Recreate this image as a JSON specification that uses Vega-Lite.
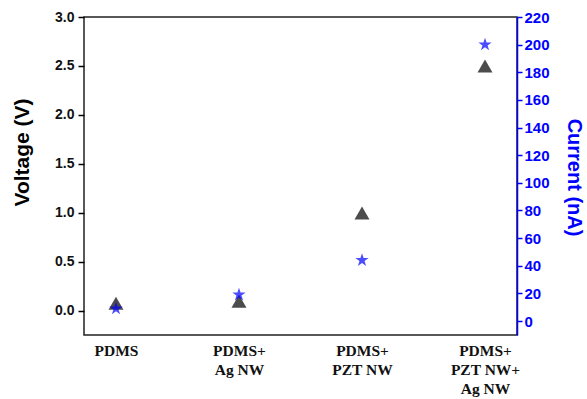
{
  "$schema": "https://vega.github.io/schema/vega-lite/v6.json",
  "width": 433,
  "height": 318,
  "autosize": "none",
  "padding": {"left": 84, "top": 17, "right": 70, "bottom": 64},
  "config": {"view": {"stroke": "#222", "strokeWidth": 1.5}},
  "data": {"values": [
    {"sample": "PDMS", "voltage": 0.08, "current": 9},
    {"sample": "PDMS+ Ag NW", "voltage": 0.1, "current": 19},
    {"sample": "PDMS+ PZT NW", "voltage": 1.0, "current": 44},
    {"sample": "PDMS+ PZT NW+ Ag NW", "voltage": 2.5, "current": 200}
  ]},
  "layer": [
    {
      "mark": {"type": "point", "shape": "triangle-up", "filled": true, "color": "black", "size": 225},
      "encoding": {
        "x": {"field": "sample", "type": "nominal", "scale": {"padding": 0.26},
          "axis": {"title": null, "labelAngle": 0, "ticks": false, "domain": false,
            "labelExpr": "split(replace(replace(datum.value, 'S+ ', 'S+|'), 'W+ ', 'W+|'), '|')",
            "labelFont": "Liberation Serif", "labelFontWeight": "bold", "labelFontSize": 15.5, "labelColor": "#111",
            "labelPadding": 8, "labelLineHeight": 19, "labelBaseline": "top", "labelOverlap": false}},
        "y": {"field": "voltage", "type": "quantitative", "scale": {"domain": [-0.245, 3.0]},
          "axis": {"values": [0, 0.5, 1, 1.5, 2, 2.5, 3], "format": ".1f", "title": "Voltage (V)", "grid": false,
            "tickSize": 6, "tickWidth": 1.5, "tickColor": "black", "domain": false,
            "labelFont": "Liberation Sans", "labelFontWeight": "bold", "labelFontSize": 14, "labelColor": "#111", "labelPadding": 4,
            "titleFont": "Liberation Sans", "titleFontWeight": "bold", "titleFontSize": 21, "titleColor": "black",
            "titleAngle": -90, "titleX": -62, "titleY": 135, "titleAlign": "center", "titleBaseline": "middle"}}
      }
    },
    {
      "mark": {"type": "point", "shape": "M0,-1L0.225,-0.309L0.951,-0.309L0.363,0.118L0.588,0.809L0,0.382L-0.588,0.809L-0.363,0.118L-0.951,-0.309L-0.225,-0.309Z", "filled": true, "color": "#0000ff", "size": 196},
      "encoding": {
        "x": {"field": "sample", "type": "nominal", "scale": {"padding": 0.26}},
        "y": {"field": "current", "type": "quantitative", "scale": {"domain": [-10.1, 220]},
          "axis": {"orient": "right", "values": [0, 20, 40, 60, 80, 100, 120, 140, 160, 180, 200, 220], "title": "Current (nA)", "grid": false,
            "tickSize": 5, "tickWidth": 1.5, "tickColor": "#0000ff", "domainColor": "#0000ff", "domainWidth": 1.5,
            "labelFont": "Liberation Sans", "labelFontWeight": "bold", "labelFontSize": 15, "labelColor": "#0000ff", "labelPadding": 2,
            "titleFont": "Liberation Sans", "titleFontWeight": "bold", "titleFontSize": 20, "titleColor": "#0000ff",
            "titleAngle": 90, "titleX": 56, "titleY": 160, "titleAlign": "center", "titleBaseline": "middle"}}
      }
    }
  ],
  "resolve": {"scale": {"y": "independent"}}
}
